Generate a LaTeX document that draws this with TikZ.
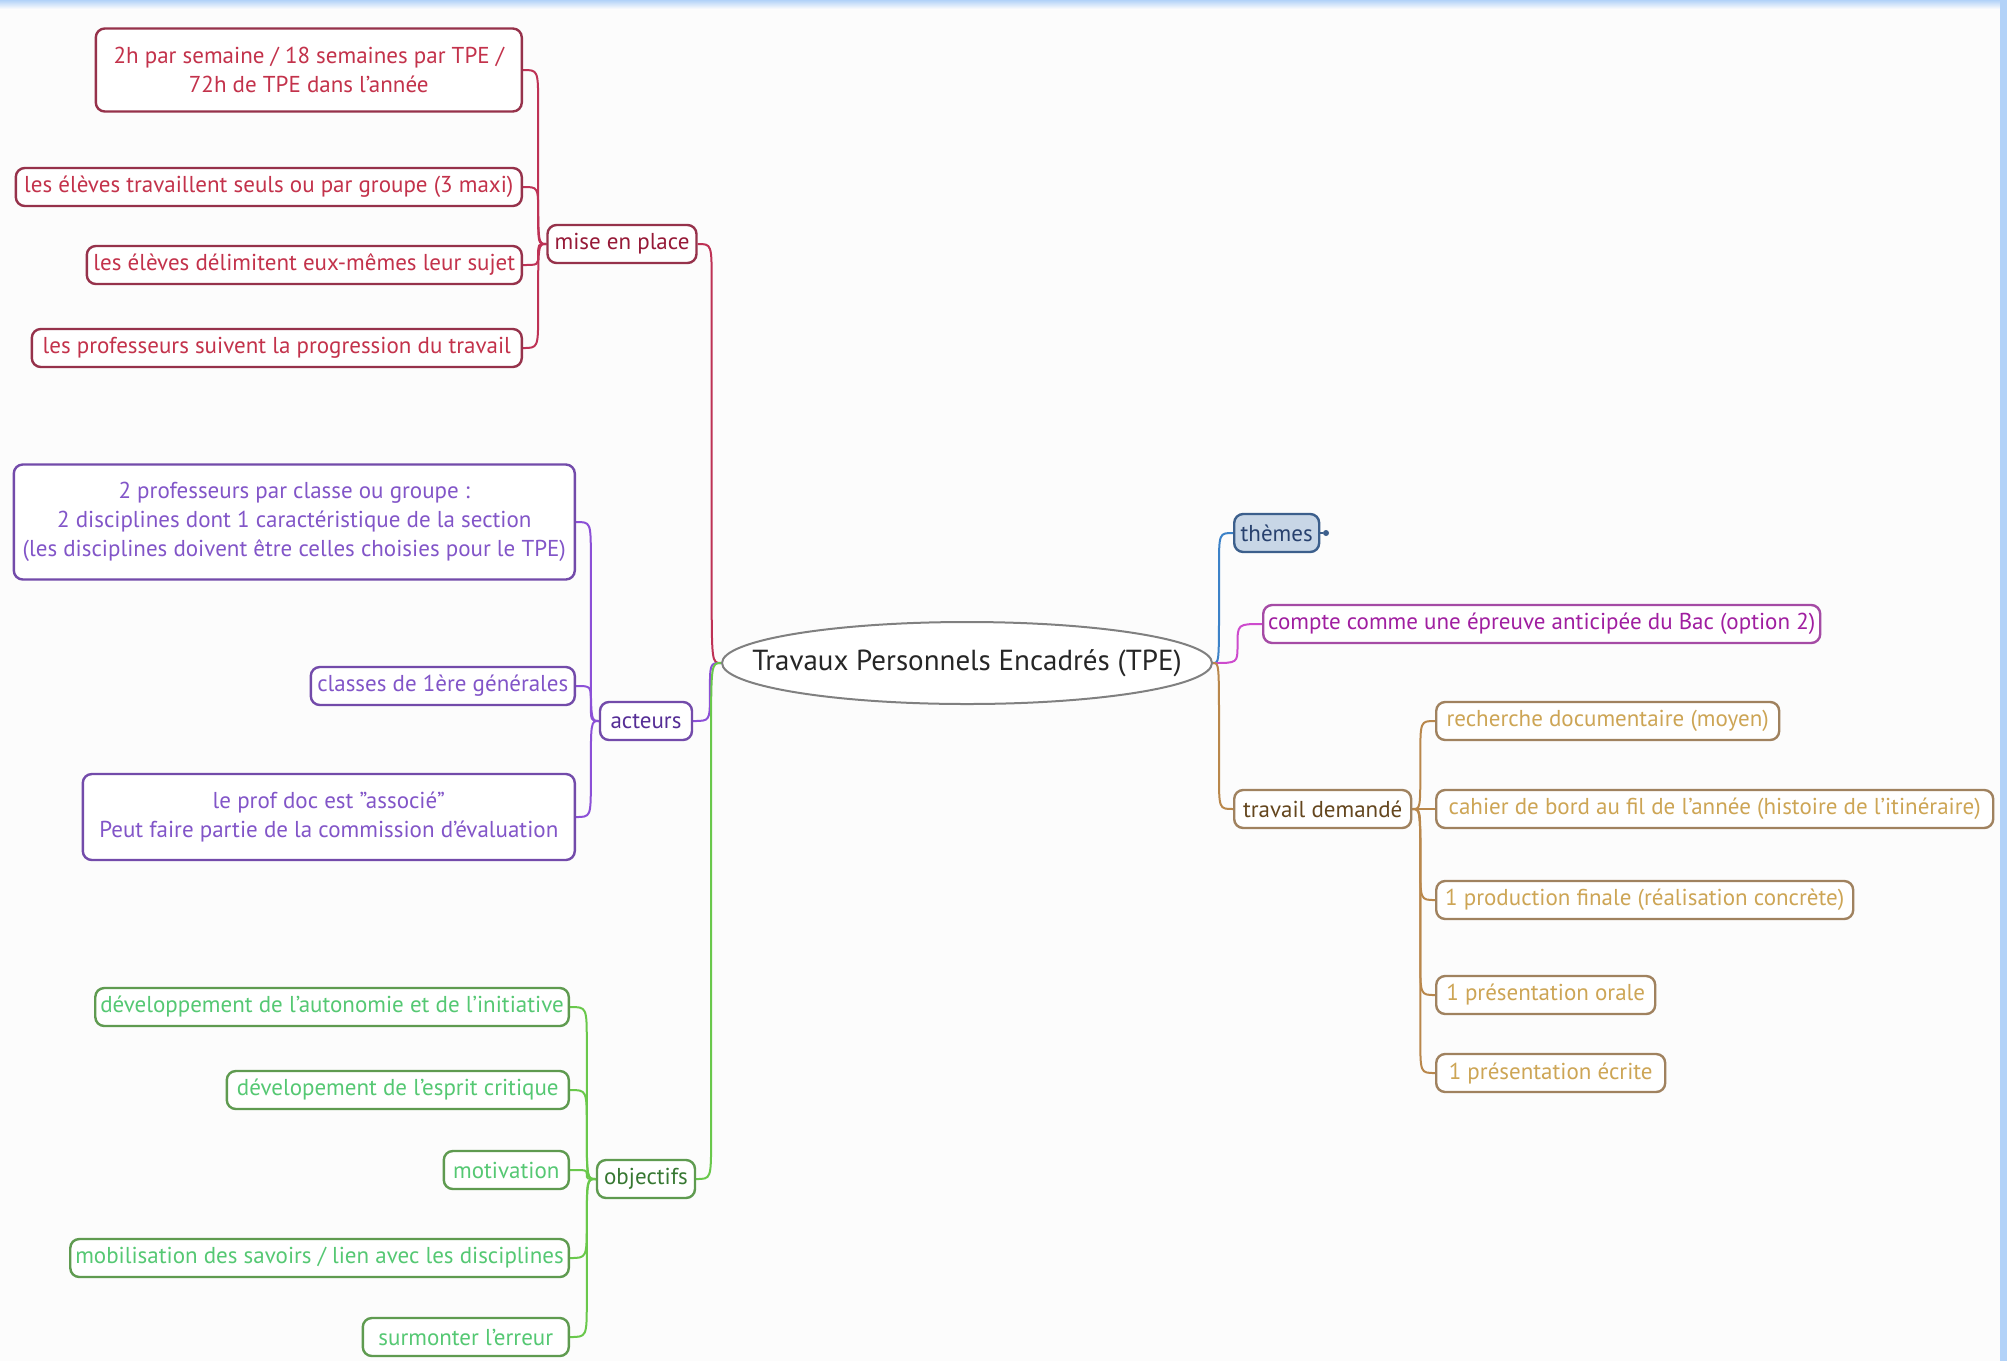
\documentclass[tikz,border=0pt]{standalone}
\usepackage{fontspec}
\setmainfont{PT Sans}
\usetikzlibrary{calc,backgrounds,shapes.geometric}
\definecolor{bgc}{RGB}{252,252,252}
\definecolor{edgeblue}{RGB}{178,210,248}
\definecolor{mepLink}{RGB}{190,50,85}
\definecolor{mepBorder}{RGB}{150,50,75}
\definecolor{mepText}{RGB}{150,25,55}
\definecolor{mepChild}{RGB}{195,50,75}
\definecolor{actLink}{RGB}{140,80,215}
\definecolor{actBorder}{RGB}{115,75,170}
\definecolor{actText}{RGB}{85,45,150}
\definecolor{actChild}{RGB}{130,85,200}
\definecolor{objLink}{RGB}{105,200,75}
\definecolor{objBorder}{RGB}{95,155,80}
\definecolor{objText}{RGB}{55,120,50}
\definecolor{objChild}{RGB}{85,200,115}
\definecolor{thLink}{RGB}{60,130,200}
\definecolor{thBorder}{RGB}{60,95,140}
\definecolor{thFill}{RGB}{200,214,230}
\definecolor{thText}{RGB}{40,65,110}
\definecolor{cpLink}{RGB}{205,75,205}
\definecolor{cpBorder}{RGB}{165,75,165}
\definecolor{cpText}{RGB}{160,30,160}
\definecolor{trLink}{RGB}{185,135,75}
\definecolor{trBorder}{RGB}{160,130,95}
\definecolor{trText}{RGB}{100,70,30}
\definecolor{trChild}{RGB}{205,165,85}
% #1 colour, #2 from anchor, #3 to anchor,
% #4 bend length at the from end, #5 bend length at the to end, #6 trunk position (0..1)
\newcommand\mmlink[6]{%
  \draw[linkline,#1] let \p1=(#2), \p2=(#3),
      \n1={(1-#6)*\x1+#6*\x2},
      \n2={min(abs(\y2-\y1)*0.45,#4)},
      \n4={min(abs(\y2-\y1)*0.55,#5)},
      \n3={(\y2>\y1)?1:-1} in
    (\p1) .. controls (\n1,\y1) .. (\n1,{\y1+\n3*\n2})
      -- (\n1,{\y2-\n3*\n4}) .. controls (\n1,\y2) .. (\p2);}
\begin{document}
\begin{tikzpicture}[x=1pt,y=-1pt,
  box/.style={draw, rounded corners=9pt, line width=2.4pt, fill=white,
    inner xsep=5pt, inner ysep=3pt, minimum height=38pt, align=center,
    font=\fontsize{23}{29}\selectfont},
  linkline/.style={line width=2pt},
  mepB/.style={box, draw=mepBorder, text=mepText},
  mepC/.style={box, draw=mepBorder, text=mepChild},
  actB/.style={box, draw=actBorder, text=actText},
  actC/.style={box, draw=actBorder, text=actChild},
  objB/.style={box, draw=objBorder, text=objText},
  objC/.style={box, draw=objBorder, text=objChild},
  thB/.style={box, draw=thBorder, fill=thFill, text=thText},
  cpB/.style={box, draw=cpBorder, text=cpText},
  trB/.style={box, draw=trBorder, text=trText},
  trC/.style={box, draw=trBorder, text=trChild},
  rootB/.style={ellipse, draw=black!50, line width=2pt, fill=white,
    minimum width=490pt, minimum height=82pt, inner xsep=-42pt, inner ysep=0pt,
    font=\fontsize{29}{33}\selectfont, text=black!85}
]
\useasboundingbox (0,0) rectangle (2007,1361);

% root
\node[rootB] (root) at (967,663) {Travaux Personnels Encadrés (TPE)};

% mise en place
\node[mepB, minimum width=149pt] (mep) at (622,244) {mise en place};
\node[mepC, anchor=east, minimum width=426pt, minimum height=83pt] (m1) at (523,70)
  {2h par semaine / 18 semaines par TPE /\\72h de TPE dans l'année};
\node[mepC, anchor=east, minimum width=506pt] (m2) at (523,187)
  {les élèves travaillent seuls ou par groupe (3 maxi)};
\node[mepC, anchor=east, minimum width=435pt] (m3) at (523,265)
  {les élèves délimitent eux-mêmes leur sujet};
\node[mepC, anchor=east, minimum width=490pt] (m4) at (523,348)
  {les professeurs suivent la progression du travail};

% acteurs
\node[actB, minimum width=92pt] (act) at (646,721) {acteurs};
\node[actC, anchor=east, minimum width=561pt, minimum height=115pt] (a1) at (576,522)
  {2 professeurs par classe ou groupe :\\2 disciplines dont 1 caractéristique de la section\\(les disciplines doivent être celles choisies pour le TPE)};
\node[actC, anchor=east, minimum width=264pt] (a2) at (576,686)
  {classes de 1ère générales};
\node[actC, anchor=east, minimum width=492pt, minimum height=86pt] (a3) at (576,817)
  {le prof doc est "associé"\\Peut faire partie de la commission d'évaluation};

% objectifs
\node[objB, minimum width=98pt] (obj) at (646,1179) {objectifs};
\node[objC, anchor=east, minimum width=473pt] (o1) at (570,1007)
  {développement de l'autonomie et de l'initiative};
\node[objC, anchor=east, minimum width=342pt] (o2) at (570,1090)
  {dévelopement de l'esprit critique};
\node[objC, anchor=east, minimum width=125pt] (o3) at (570,1170)
  {motivation};
\node[objC, anchor=east, minimum width=498pt] (o4) at (570,1258)
  {mobilisation des savoirs / lien avec les disciplines};
\node[objC, anchor=east, minimum width=206pt] (o5) at (570,1337)
  {surmonter l'erreur};

% right side
\node[thB, anchor=west, minimum width=85pt] (th) at (1233,533) {thèmes};
\node[circle, fill=thBorder, inner sep=0pt, minimum size=6pt] (thdot) at (1326,533) {};
\node[cpB, anchor=west, minimum width=556pt] (cp) at (1262,624)
  {compte comme une épreuve anticipée du Bac (option 2)};
\node[trB, anchor=west, minimum width=177pt] (tr) at (1233,809) {travail demandé};
\node[trC, anchor=west, minimum width=343pt] (t1) at (1435,721)
  {recherche documentaire (moyen)};
\node[trC, anchor=west, minimum width=557pt] (t2) at (1435,809)
  {cahier de bord au fil de l'année (histoire de l'itinéraire)};
\node[trC, anchor=west, minimum width=417pt] (t3) at (1435,900)
  {1 production finale (réalisation concrète)};
\node[trC, anchor=west, minimum width=219pt] (t4) at (1435,995)
  {1 présentation orale};
\node[trC, anchor=west, minimum width=229pt] (t5) at (1435,1073)
  {1 présentation écrite};

\begin{pgfonlayer}{background}
  \fill[bgc] (0,0) rectangle (2007,1361);
  \shade[top color=edgeblue, bottom color=bgc] (0,0) rectangle (2007,9);
  \fill[edgeblue] (2000,0) rectangle (2007,1361);
  \mmlink{mepLink}{mep.east}{root.west}{40}{80}{0.6}
  \mmlink{actLink}{act.east}{root.west}{40}{80}{0.6}
  \mmlink{objLink}{obj.east}{root.west}{40}{80}{0.6}
  \mmlink{mepLink}{m1.east}{mep.west}{36}{60}{0.65}
  \mmlink{mepLink}{m2.east}{mep.west}{36}{60}{0.65}
  \mmlink{mepLink}{m3.east}{mep.west}{36}{60}{0.65}
  \mmlink{mepLink}{m4.east}{mep.west}{36}{60}{0.65}
  \mmlink{actLink}{a1.east}{act.west}{36}{60}{0.65}
  \mmlink{actLink}{a2.east}{act.west}{36}{60}{0.65}
  \mmlink{actLink}{a3.east}{act.west}{36}{60}{0.65}
  \mmlink{objLink}{o1.east}{obj.west}{36}{60}{0.65}
  \mmlink{objLink}{o2.east}{obj.west}{36}{60}{0.65}
  \mmlink{objLink}{o3.east}{obj.west}{36}{60}{0.65}
  \mmlink{objLink}{o4.east}{obj.west}{36}{60}{0.65}
  \mmlink{objLink}{o5.east}{obj.west}{36}{60}{0.65}
  \mmlink{thLink}{root.east}{th.west}{80}{36}{0.3}
  \mmlink{cpLink}{root.east}{cp.west}{80}{36}{0.5}
  \mmlink{trLink}{root.east}{tr.west}{80}{36}{0.3}
  \mmlink{trLink}{tr.east}{t1.west}{60}{36}{0.35}
  \mmlink{trLink}{tr.east}{t2.west}{60}{36}{0.35}
  \mmlink{trLink}{tr.east}{t3.west}{60}{36}{0.35}
  \mmlink{trLink}{tr.east}{t4.west}{60}{36}{0.35}
  \mmlink{trLink}{tr.east}{t5.west}{60}{36}{0.35}
  \draw[thBorder, line width=2pt] (th.east) -- (thdot);
\end{pgfonlayer}
\end{tikzpicture}
\end{document}
